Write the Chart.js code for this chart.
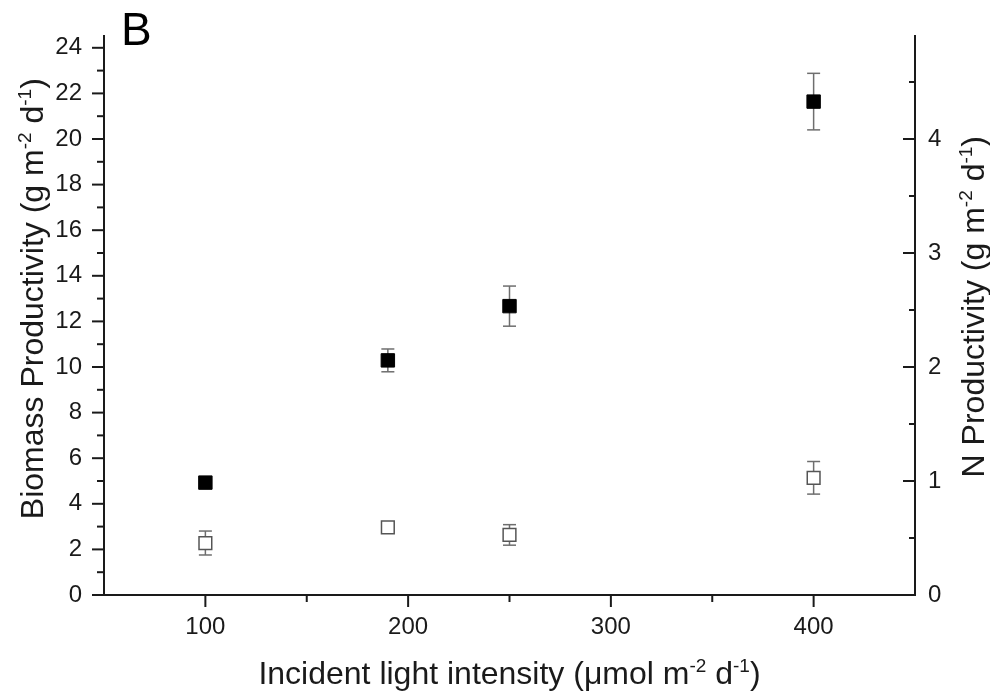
<!DOCTYPE html>
<html>
<head>
<meta charset="utf-8">
<script src="https://cdn.jsdelivr.net/npm/chart.js@4"></script>
<style>
    html, body { margin: 0; padding: 0; background: #fff; }
    #wrap { width: 990px; height: 694px; }
</style>
</head>
<body>
<div id="wrap"><canvas id="lightChart" width="990" height="694"></canvas></div>
<script>
// data
const lightIntensity = [100, 190, 250, 400];
const biomassProd = [4.93, 10.29, 12.67, 21.64];
const biomassErr = [0.2, 0.5, 0.88, 1.24];
const nProd = [0.456, 0.594, 0.527, 1.028];
const nErr = [0.105, 0.03, 0.09, 0.143];

// axis ticks
const xTicks = [100, 200, 300, 400];
const xMinorTicks = [150, 250, 350];
const leftTicks = [0, 2, 4, 6, 8, 10, 12, 14, 16, 18, 20, 22, 24];
const leftMinorTicks = [1, 3, 5, 7, 9, 11, 13, 15, 17, 19, 21, 23];
const rightTicks = [0, 1, 2, 3, 4];
const rightMinorTicks = [0.5, 1.5, 2.5, 3.5, 4.5];

const FONT = "'Liberation Sans', Arial, sans-serif";
const INK = '#1a1a1a';

// rich text: [text, isSuperscript]
const xTitle = [['Incident light intensity (\u03bcmol m', false], ['-2', true], [' d', false], ['-1', true], [')', false]];
const leftTitle = [['Biomass Productivity (g m', false], ['-2', true], [' d', false], ['-1', true], [')', false]];
const rightTitle = [['N Productivity (g m', false], ['-2', true], [' d', false], ['-1', true], [')', false]];

function drawRich(ctx, parts, size, cx, cy, rotate) {
    const supSize = Math.round(size * 0.6);
    let total = 0;
    parts.forEach(([t, sup]) => {
        ctx.font = (sup ? supSize : size) + 'px ' + FONT;
        total += ctx.measureText(t).width;
    });
    ctx.save();
    ctx.translate(cx, cy);
    if (rotate) ctx.rotate(-Math.PI / 2);
    ctx.fillStyle = INK;
    ctx.textAlign = 'left';
    ctx.textBaseline = 'alphabetic';
    let x = -total / 2;
    parts.forEach(([t, sup]) => {
        ctx.font = (sup ? supSize : size) + 'px ' + FONT;
        ctx.fillText(t, x, sup ? -size * 0.36 : 0);
        x += ctx.measureText(t).width;
    });
    ctx.restore();
}

function tickLine(ctx, x1, y1, x2, y2) {
    ctx.beginPath();
    ctx.moveTo(x1, y1);
    ctx.lineTo(x2, y2);
    ctx.stroke();
}

// error bars go under the markers
const errorBarPlugin = {
    id: 'errorBars',
    beforeDatasetsDraw(chart) {
        const ctx = chart.ctx;
        const xs = chart.scales.x;
        const sets = [
            { scale: chart.scales.y, vals: biomassProd, errs: biomassErr },
            { scale: chart.scales.y1, vals: nProd, errs: nErr }
        ];
        ctx.save();
        ctx.strokeStyle = '#6e6e6e';
        ctx.lineWidth = 1.5;
        sets.forEach(s => {
            lightIntensity.forEach((lx, i) => {
                const px = xs.getPixelForValue(lx);
                const top = s.scale.getPixelForValue(s.vals[i] + s.errs[i]);
                const bot = s.scale.getPixelForValue(s.vals[i] - s.errs[i]);
                tickLine(ctx, px, top, px, bot);
                tickLine(ctx, px - 6.5, top, px + 6.5, top);
                tickLine(ctx, px - 6.5, bot, px + 6.5, bot);
            });
        });
        ctx.restore();
    }
};

// tick marks, titles, panel letter
const decorPlugin = {
    id: 'decor',
    afterDraw(chart) {
        const ctx = chart.ctx;
        const area = chart.chartArea;
        const xs = chart.scales.x, yl = chart.scales.y, yr = chart.scales.y1;
        ctx.save();
        ctx.strokeStyle = INK;
        ctx.lineWidth = 2;
        xTicks.forEach(v => { const p = xs.getPixelForValue(v); tickLine(ctx, p, area.bottom, p, area.bottom + 12); });
        xMinorTicks.forEach(v => { const p = xs.getPixelForValue(v); tickLine(ctx, p, area.bottom, p, area.bottom + 7); });
        leftTicks.forEach(v => { const p = yl.getPixelForValue(v); tickLine(ctx, area.left, p, area.left - 12, p); });
        leftMinorTicks.forEach(v => { const p = yl.getPixelForValue(v); tickLine(ctx, area.left, p, area.left - 7, p); });
        rightTicks.forEach(v => { const p = yr.getPixelForValue(v); tickLine(ctx, area.right, p, area.right - 12, p); });
        rightMinorTicks.forEach(v => { const p = yr.getPixelForValue(v); tickLine(ctx, area.right, p, area.right - 6, p); });
        ctx.restore();

        const midY = (area.top + area.bottom) / 2;
        drawRich(ctx, xTitle, 32, (area.left + area.right) / 2, 684, false);
        drawRich(ctx, leftTitle, 32, 43, midY - 17, true);
        drawRich(ctx, rightTitle, 32, 984, midY - 9, true);

        ctx.save();
        ctx.fillStyle = '#000';
        ctx.font = '46px ' + FONT;
        ctx.textBaseline = 'alphabetic';
        ctx.fillText('B', 121, 45);
        ctx.restore();
    }
};

function axisBase(ticksArr, pad) {
    return {
        grid: { display: false, drawTicks: false },
        border: { display: true, color: INK, width: 2 },
        ticks: {
            color: INK,
            font: { family: FONT, size: 24 },
            padding: pad,
            callback: v => String(v)
        },
        afterBuildTicks: s => { s.ticks = ticksArr.map(v => ({ value: v })); }
    };
}

const xAxis = Object.assign(axisBase(xTicks, 18), {
    type: 'linear', position: 'bottom', min: 50, max: 450,
    afterFit: s => { s.height = 99; }
});
const leftAxis = Object.assign(axisBase(leftTicks, 22), {
    type: 'linear', position: 'left', min: 0, max: 24.5,
    afterFit: s => { s.width = 104; }
});
const rightAxis = Object.assign(axisBase(rightTicks, 13), {
    type: 'linear', position: 'right', min: 0, max: 4.9,
    afterFit: s => { s.width = 75; }
});

new Chart(document.getElementById('lightChart'), {
    type: 'scatter',
    data: {
        datasets: [
            {
                label: 'Biomass productivity',
                data: lightIntensity.map((x, i) => ({ x: x, y: biomassProd[i] })),
                yAxisID: 'y',
                pointStyle: 'rect',
                pointRadius: 9.5,
                backgroundColor: '#000',
                borderColor: '#000',
                borderWidth: 1
            },
            {
                label: 'N productivity',
                data: lightIntensity.map((x, i) => ({ x: x, y: nProd[i] })),
                yAxisID: 'y1',
                pointStyle: 'rect',
                pointRadius: 9,
                backgroundColor: '#fff',
                borderColor: '#555',
                borderWidth: 1.5
            }
        ]
    },
    options: {
        responsive: false,
        animation: false,
        layout: { padding: { top: 12, left: 0, right: 0, bottom: 0 } },
        plugins: { legend: { display: false }, tooltip: { enabled: false } },
        scales: { x: xAxis, y: leftAxis, y1: rightAxis }
    },
    plugins: [errorBarPlugin, decorPlugin]
});
</script>
</body>
</html>
